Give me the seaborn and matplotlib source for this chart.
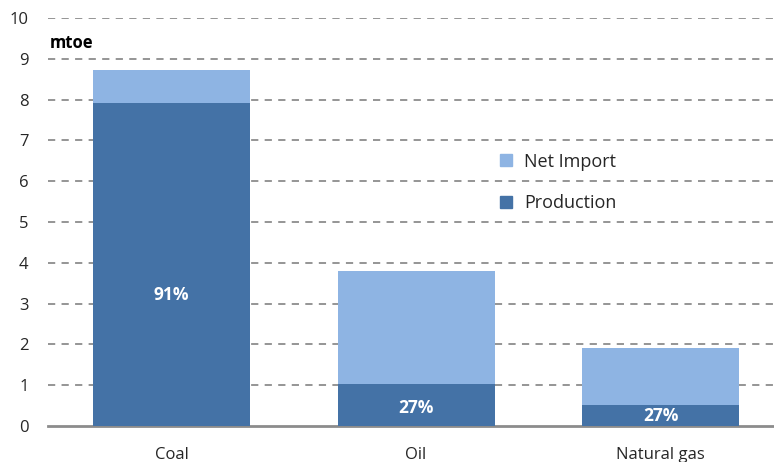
import matplotlib
matplotlib.use("Agg")
import matplotlib.pyplot as plt
import seaborn as sns
import pandas as pd
from matplotlib.patches import Patch

# Energy supply by fuel (million tonnes of oil equivalent)
fuels = ["Coal", "Oil", "Natural gas"]
production = [7.92, 1.02, 0.51]
net_import = [0.81, 2.78, 1.40]
share_labels = ["91%", "27%", "27%"]
yticks = list(range(0, 11))

prod_color = "#4472A6"
imp_color = "#8EB4E3"

sns.set_theme(style="white")
plt.rcParams["font.family"] = ["Open Sans", "DejaVu Sans"]

df = pd.DataFrame({
    "fuel": fuels,
    "production": production,
    "net_import": net_import,
})
df["total"] = df["production"] + df["net_import"]

fig = plt.figure(figsize=(7.74, 4.62), dpi=100)
ax = fig.add_axes([0.062, 0.078, 0.938, 0.883])

for y in yticks[1:]:
    ax.axhline(y, color="#8c8c8c", lw=1.3, ls=(0, (4, 3.5)), zorder=0)

sns.barplot(data=df, x="fuel", y="total", color=imp_color, width=0.642,
            saturation=1, ax=ax, zorder=2, linewidth=0)
sns.barplot(data=df, x="fuel", y="production", color=prod_color, width=0.642,
            saturation=1, ax=ax, zorder=3, linewidth=0)

# share of domestic production, written inside the lower segment
label_y = [3.2, production[1] * 0.43, production[2] * 0.5]
for i, (txt, yv) in enumerate(zip(share_labels, label_y)):
    ax.text(i, yv, txt, ha="center", va="center", color="white",
            fontsize=12.5, fontweight="bold", zorder=4)

ax.set_ylim(0, 10)
ax.set_xlim(-0.505, 2.464)
ax.set_yticks(yticks)
ax.set_yticklabels([str(t) for t in yticks], fontsize=12)
ax.set_xticks(range(len(fuels)))
ax.set_xticklabels(fuels, fontsize=12)
ax.tick_params(axis="x", length=0, pad=15)
ax.tick_params(axis="y", length=0, pad=14)
ax.set_xlabel("")
ax.set_ylabel("")

for side in ["left", "right", "top"]:
    ax.spines[side].set_visible(False)
ax.spines["bottom"].set_color("#8c8c8c")
ax.spines["bottom"].set_linewidth(2)

ax.text(0.003, 9.38, "mtoe", fontsize=12, fontweight="bold", ha="left",
        va="center", transform=ax.get_yaxis_transform(), color="black")

handles = [Patch(color=imp_color, label="Net Import"),
           Patch(color=prod_color, label="Production")]
ax.legend(handles=handles, loc="center left", bbox_to_anchor=(0.6, 0.597),
          frameon=False, fontsize=13, handlelength=0.65, handleheight=0.65,
          labelspacing=1.3, handletextpad=0.7)

fig.savefig("out.png", dpi=100)
